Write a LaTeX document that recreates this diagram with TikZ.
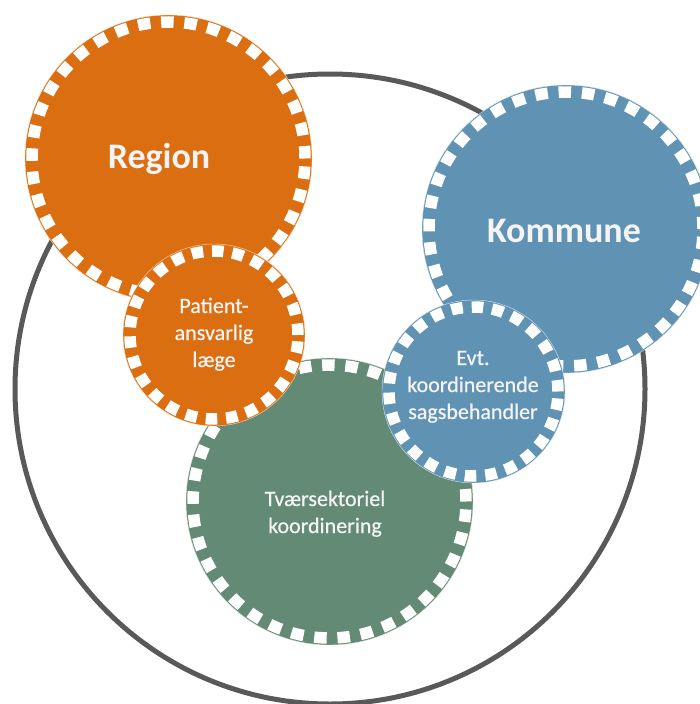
\documentclass[tikz,border=0pt]{standalone}
\usepackage{fontspec}
\setmainfont{Carlito}
\newfontfamily\smallfont[FakeBold=0.6]{Carlito}
\definecolor{cOrange}{HTML}{DA6E11}
\definecolor{cBlue}{HTML}{6092B4}
\definecolor{cGreen}{HTML}{628A74}
\definecolor{cGray}{HTML}{595959}
\definecolor{cText}{HTML}{F4F4F4}
\begin{document}
\begin{tikzpicture}[x=1pt,y=-1pt,
  bubble/.style={circle, inner sep=0pt, outer sep=0pt, fill=#1, draw=#1!25!white, line width=0.4pt},
  ring/.style={draw=white, line width=11.5pt},
  lbl/.style={text=cText, font=\smallfont\fontsize{22}{27}\selectfont, anchor=base, inner sep=0pt},
  biglbl/.style={text=cText, font=\bfseries\fontsize{36}{44}\selectfont, anchor=base, inner sep=0pt}]
\useasboundingbox (0,0) rectangle (699,704);
% outer circle
\node[circle, draw=cGray, line width=5pt, minimum size=630pt, inner sep=0pt] (outer) at (330,389) {};
% Region
\node[bubble=cOrange, minimum size=287pt] (region) at (168.5,158.5) {};
\draw[ring, dash pattern=on 12.5pt off 10.76pt] (region.center) circle (136.5pt);
\node[biglbl] (regiont) at (159,168) {Region};
% Kommune
\node[bubble=cBlue, minimum size=288pt] (kommune) at (566,229) {};
\draw[ring, dash pattern=on 12.5pt off 10.85pt] (kommune.center) circle (137pt);
\node[biglbl] (kommunet) at (564,242) {Kommune};
% Tvaersektoriel
\node[bubble=cGreen, minimum size=287pt] (tvaer) at (329.5,501.5) {};
\draw[ring, dash pattern=on 12.5pt off 10.76pt] (tvaer.center) circle (136.5pt);
\node[lbl] (tvaert) at (325,506) {\begin{tabular}[t]{@{}c@{}}Tværsektoriel\\koordinering\end{tabular}};
% Patientansvarlig
\node[bubble=cOrange, minimum size=182pt] (patient) at (214,335) {};
\draw[ring, dash pattern=on 11.5pt off 8.9pt] (patient.center) circle (84pt);
\node[lbl] (patientt) at (214,313) {\begin{tabular}[t]{@{}c@{}}Patient-\\ansvarlig\\læge\end{tabular}};
% Evt.
\node[bubble=cBlue, minimum size=183pt] (evt) at (473.5,391.5) {};
\draw[ring, dash pattern=on 11.5pt off 9pt] (evt.center) circle (84.5pt);
\node[lbl] (evtt) at (473,365) {\begin{tabular}[t]{@{}c@{}}Evt.\\koordinerende\\sagsbehandler\end{tabular}};
\end{tikzpicture}
\end{document}
